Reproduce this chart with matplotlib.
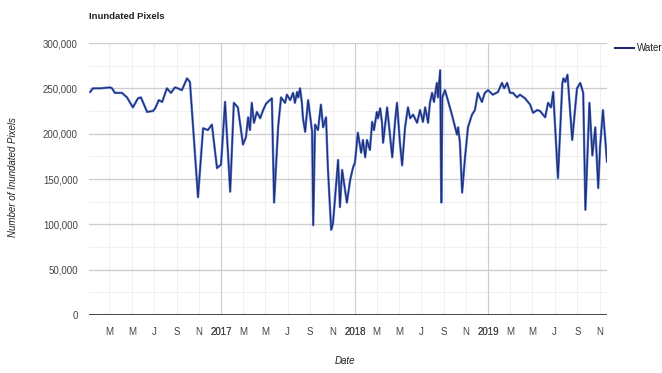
import matplotlib
matplotlib.use("Agg")
import matplotlib.pyplot as plt
import matplotlib.dates as mdates
from matplotlib.ticker import FixedLocator, FuncFormatter
import pandas as pd

plt.rcParams["font.family"] = ["Liberation Sans", "DejaVu Sans"]

# Weekly-ish inundation counts from the water classification
dates = [
    "2016-01-08", "2016-01-16", "2016-02-04", "2016-03-03", "2016-03-08", "2016-03-16",
    "2016-04-04", "2016-04-18", "2016-05-04", "2016-05-18", "2016-05-26", "2016-06-12",
    "2016-06-28", "2016-07-04", "2016-07-14", "2016-07-23", "2016-08-05", "2016-08-16",
    "2016-08-27", "2016-09-04", "2016-09-15", "2016-09-29", "2016-10-07", "2016-10-29",
    "2016-11-12", "2016-11-25", "2016-12-06", "2016-12-20", "2016-12-31", "2017-01-11",
    "2017-01-25", "2017-02-04", "2017-02-15", "2017-03-01", "2017-03-09", "2017-03-15",
    "2017-03-20", "2017-03-25", "2017-03-31", "2017-04-08", "2017-04-17", "2017-04-25",
    "2017-05-03", "2017-05-08", "2017-05-19", "2017-05-25", "2017-06-05", "2017-06-13",
    "2017-06-24", "2017-06-29", "2017-07-08", "2017-07-16", "2017-07-21", "2017-07-27",
    "2017-07-30", "2017-08-04", "2017-08-09", "2017-08-12", "2017-08-18", "2017-08-26",
    "2017-08-31", "2017-09-06", "2017-09-09", "2017-09-14", "2017-09-22", "2017-09-30",
    "2017-10-06", "2017-10-14", "2017-10-19", "2017-10-28", "2017-11-02", "2017-11-10",
    "2017-11-16", "2017-11-21", "2017-11-27", "2017-12-10", "2017-12-19", "2017-12-27",
    "2018-01-01", "2018-01-09", "2018-01-18", "2018-01-23", "2018-01-29", "2018-02-03",
    "2018-02-11", "2018-02-17", "2018-02-22", "2018-03-02", "2018-03-05", "2018-03-11",
    "2018-03-16", "2018-03-19", "2018-03-30", "2018-04-02", "2018-04-13", "2018-04-21",
    "2018-04-26", "2018-05-04", "2018-05-10", "2018-05-18", "2018-05-26", "2018-06-01",
    "2018-06-09", "2018-06-20", "2018-06-28", "2018-07-06", "2018-07-12", "2018-07-20",
    "2018-07-25", "2018-07-31", "2018-08-05", "2018-08-13", "2018-08-16", "2018-08-22",
    "2018-08-25", "2018-08-28", "2018-09-04", "2018-09-12", "2018-09-23", "2018-10-07",
    "2018-10-10", "2018-10-15", "2018-10-21", "2018-10-29", "2018-11-06", "2018-11-17",
    "2018-11-25", "2018-12-03", "2018-12-14", "2018-12-22", "2018-12-31", "2019-01-13",
    "2019-01-27", "2019-02-07", "2019-02-13", "2019-02-21", "2019-03-01", "2019-03-09",
    "2019-03-20", "2019-03-28", "2019-04-11", "2019-04-25", "2019-05-03", "2019-05-14",
    "2019-05-22", "2019-06-05", "2019-06-13", "2019-06-21", "2019-06-27", "2019-07-10",
    "2019-07-22", "2019-07-25", "2019-07-30", "2019-08-05", "2019-08-18", "2019-08-31",
    "2019-09-09", "2019-09-17", "2019-09-23", "2019-10-04", "2019-10-12", "2019-10-20",
    "2019-10-28", "2019-11-02", "2019-11-10", "2019-11-21",
]

water = [
    246000, 250000, 250000, 251000, 250000, 245000,
    245000, 240000, 229000, 239000, 240000, 224000,
    225000, 228000, 237000, 235000, 250000, 245000,
    251000, 250000, 248000, 261000, 257000, 130000,
    206000, 204000, 210000, 162000, 166000, 235000,
    136000, 234000, 229000, 188000, 196000, 218000,
    204000, 234000, 212000, 224000, 217000, 226000,
    233000, 235000, 239000, 124000, 207000, 240000,
    234000, 243000, 237000, 245000, 234000, 246000,
    240000, 250000, 234000, 217000, 202000, 237000,
    221000, 202000, 99000, 210000, 204000, 232000,
    207000, 218000, 163000, 94000, 101000, 141000,
    171000, 119000, 160000, 124000, 149000, 163000,
    168000, 201000, 179000, 193000, 174000, 193000,
    182000, 213000, 204000, 224000, 217000, 228000,
    212000, 190000, 229000, 217000, 174000, 215000,
    234000, 190000, 165000, 207000, 229000, 217000,
    221000, 212000, 226000, 213000, 229000, 212000,
    234000, 245000, 235000, 256000, 240000, 270000,
    124000, 240000, 248000, 237000, 221000, 199000,
    207000, 190000, 135000, 174000, 207000, 221000,
    226000, 245000, 235000, 245000, 248000, 243000,
    246000, 256000, 250000, 256000, 245000, 245000,
    240000, 243000, 239000, 232000, 223000, 226000,
    225000, 218000, 234000, 229000, 246000, 151000,
    256000, 261000, 257000, 265000, 193000, 250000,
    256000, 245000, 116000, 234000, 176000, 207000,
    140000, 185000, 226000, 169000,
]

y_ticks = [0, 50000, 100000, 150000, 200000, 250000, 300000]
series_name = "Water"
chart_title = "Inundated Pixels"
x_title = "Date"
y_title = "Number of Inundated Pixels"

df = pd.DataFrame({"date": pd.to_datetime(dates), "water": water})

fig = plt.figure(figsize=(6.62, 3.73), dpi=100)
ax = fig.add_axes([0.1344, 0.1555, 0.7825, 0.7292])

ax.plot(df["date"], df["water"], color="#5578d6", lw=1.7, solid_joinstyle="round", zorder=3)
ax.plot(df["date"], df["water"], color="#1f2b6a", lw=0.8, solid_joinstyle="round", zorder=4)

ax.set_xlim(df["date"].min() - pd.Timedelta(days=3), df["date"].max())
ax.set_ylim(0, 300000)

# Gridlines: faint minor grid, light major grid, year lines and a dark baseline
years = pd.date_range("2017-01-01", "2019-01-01", freq="YS")
months = pd.date_range("2016-03-01", "2019-11-01", freq="2MS")
tick_dates = sorted(list(months) + list(years))
ax.xaxis.set_major_locator(FixedLocator(mdates.date2num(tick_dates)))


def month_label(val, pos):
    d = mdates.num2date(val)
    if d.month == 1:
        return str(d.year)
    return d.strftime("%b")[0]


ax.xaxis.set_major_formatter(FuncFormatter(month_label))
ax.set_yticks(y_ticks)
ax.yaxis.set_major_formatter(FuncFormatter(lambda v, p: f"{int(v):,}"))

for d in months:
    ax.axvline(d, color="#f0f0f0", lw=0.8, zorder=0)
for d in years:
    ax.axvline(d, color="#cccccc", lw=0.8, zorder=1)
for v in range(25000, 300000, 50000):
    ax.axhline(v, color="#f0f0f0", lw=0.8, zorder=0)
for v in y_ticks[1:]:
    ax.axhline(v, color="#cccccc", lw=0.9, zorder=1)
ax.axhline(0, color="#333333", lw=2.0, zorder=5)

for s in ax.spines.values():
    s.set_visible(False)
ax.tick_params(axis="both", length=0, labelsize=7, colors="#444444")
ax.tick_params(axis="x", pad=9)
ax.tick_params(axis="y", pad=8)

fig.text(0.1344, 0.955, chart_title, fontsize=6.8, fontweight="bold", color="#222222",
         ha="left", va="center")
fig.text(0.521, 0.018, x_title, fontsize=7, style="italic", color="#222222",
         ha="center", va="bottom")
fig.text(0.02, 0.525, y_title, fontsize=7, style="italic", color="#222222",
         ha="center", va="center", rotation=90)

# Legend entry on the right
fig.lines.append(plt.Line2D([615 / 662, 634 / 662], [1 - 48 / 373, 1 - 48 / 373],
                            transform=fig.transFigure, color="#1f2b6a", lw=1.5))
fig.text(637 / 662, 1 - 48 / 373, series_name, fontsize=7, color="#222222",
         ha="left", va="center")

fig.savefig("out.png", dpi=100, facecolor="white")
